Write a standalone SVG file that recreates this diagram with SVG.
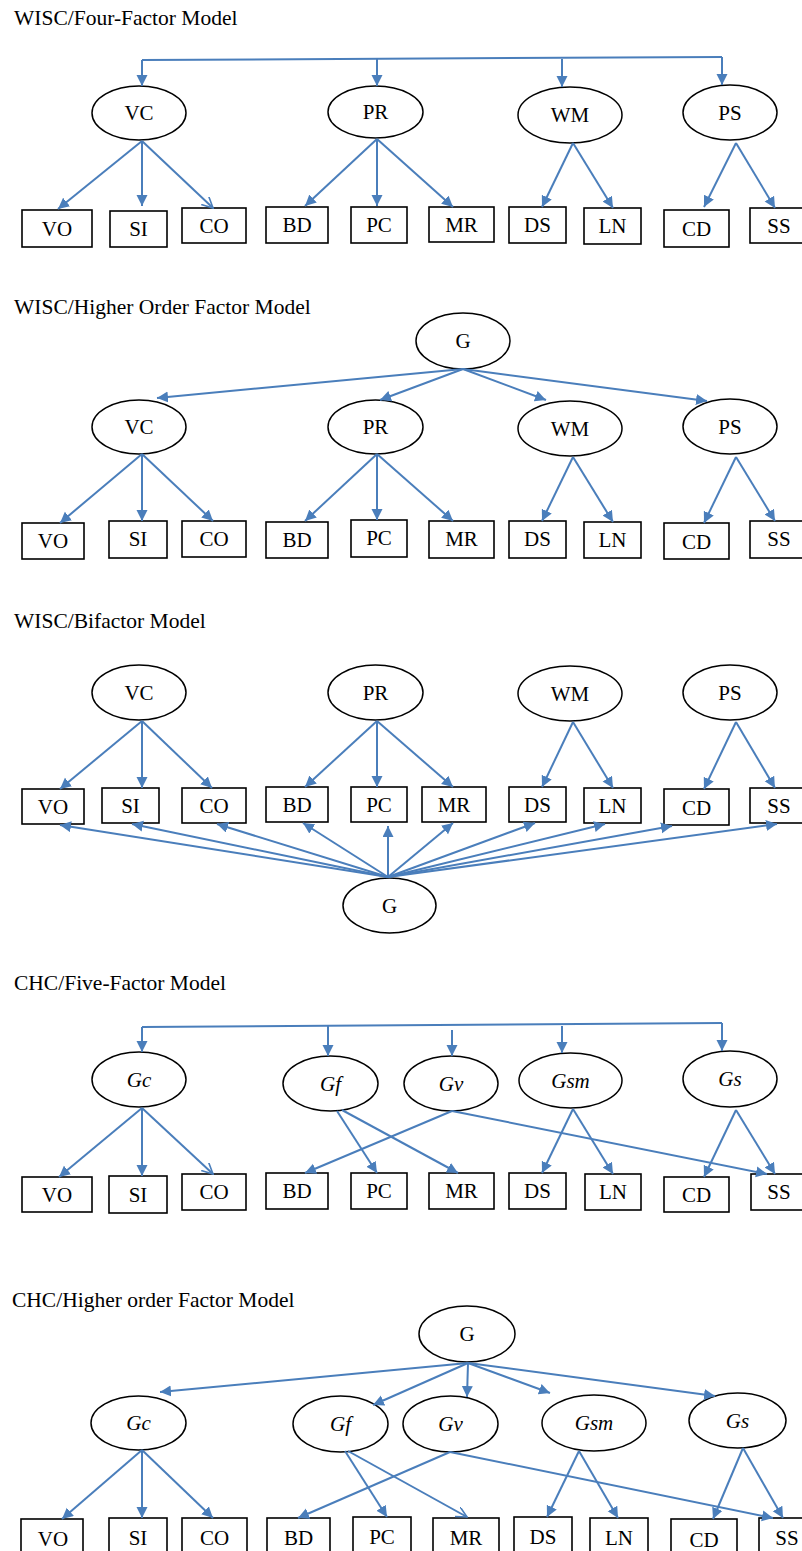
<svg xmlns="http://www.w3.org/2000/svg" width="802" height="1551" viewBox="0 0 802 1551">
<style>
.title{font-family:'Liberation Serif','Times New Roman',Times,'DejaVu Serif',serif;font-size:21.5px;fill:#000}
.lbl{font-family:'Liberation Serif','Times New Roman',Times,'DejaVu Serif',serif;font-size:21px;text-anchor:middle;fill:#000}
.it{font-style:italic}
.box{fill:#fff;stroke:#000;stroke-width:1.6}
.ell{fill:#fff;stroke:#000;stroke-width:1.5}
.c{stroke:#4A7EBB;stroke-width:2;fill:none;marker-end:url(#ah)}
.co{stroke:#4A7EBB;stroke-width:2;fill:none;marker-end:url(#ao)}
.l{stroke:#4A7EBB;stroke-width:2;fill:none}
</style>
<defs>
<marker id="ah" markerUnits="userSpaceOnUse" markerWidth="12" markerHeight="12" refX="11" refY="5.5" orient="auto"><path d="M0,0 L11,5.5 L0,11 z" fill="#4A7EBB"/></marker>
<marker id="ao" markerUnits="userSpaceOnUse" markerWidth="12" markerHeight="12" refX="11" refY="5.5" orient="auto"><path d="M0,0 L11,5.5 L0,11" fill="none" stroke="#4A7EBB" stroke-width="1.6"/></marker>
</defs>
<rect width="802" height="1551" fill="#fff"/>

<!-- Section 1 -->
<text class="title" x="14" y="25" font-family="Liberation Serif, serif">WISC/Four-Factor Model</text>
<g id="s1-VC"><ellipse class="ell" cx="139" cy="113" rx="47" ry="27"/><text class="lbl" x="139" y="120">VC</text></g>
<g id="s1-PR"><ellipse class="ell" cx="375.5" cy="112" rx="47.5" ry="26"/><text class="lbl" x="375.5" y="119">PR</text></g>
<g id="s1-WM"><ellipse class="ell" cx="570" cy="115" rx="52" ry="28"/><text class="lbl" x="570" y="122">WM</text></g>
<g id="s1-PS"><ellipse class="ell" cx="730" cy="112.5" rx="47" ry="27.5"/><text class="lbl" x="730" y="119.5">PS</text></g>
<g id="s1-VO"><rect class="box" x="22" y="210" width="70" height="37"/><text class="lbl" x="57" y="236">VO</text></g>
<g id="s1-SI"><rect class="box" x="110" y="211" width="57" height="36"/><text class="lbl" x="138.5" y="236">SI</text></g>
<g id="s1-CO"><rect class="box" x="182" y="208" width="64" height="35"/><text class="lbl" x="214" y="233">CO</text></g>
<g id="s1-BD"><rect class="box" x="266" y="207" width="62" height="36"/><text class="lbl" x="297" y="232">BD</text></g>
<g id="s1-PC"><rect class="box" x="351" y="207" width="56" height="36"/><text class="lbl" x="379" y="232">PC</text></g>
<g id="s1-MR"><rect class="box" x="429" y="207" width="65" height="35"/><text class="lbl" x="461.5" y="232">MR</text></g>
<g id="s1-DS"><rect class="box" x="509" y="207" width="57" height="36"/><text class="lbl" x="537.5" y="232">DS</text></g>
<g id="s1-LN"><rect class="box" x="584" y="208" width="57" height="36"/><text class="lbl" x="612.5" y="233">LN</text></g>
<g id="s1-CD"><rect class="box" x="664" y="210" width="65" height="37"/><text class="lbl" x="696.5" y="236">CD</text></g>
<g id="s1-SS"><rect class="box" x="750" y="208" width="58" height="35"/><text class="lbl" x="779" y="233">SS</text></g>

<!-- Section 2 -->
<text class="title" x="14" y="314">WISC/Higher Order Factor Model</text>
<g id="s2-G"><ellipse class="ell" cx="463" cy="341" rx="47" ry="28"/><text class="lbl" x="463" y="348">G</text></g>
<g id="s2-VC"><ellipse class="ell" cx="139" cy="427" rx="47" ry="27"/><text class="lbl" x="139" y="434">VC</text></g>
<g id="s2-PR"><ellipse class="ell" cx="375.5" cy="427" rx="47.5" ry="27"/><text class="lbl" x="375.5" y="434">PR</text></g>
<g id="s2-WM"><ellipse class="ell" cx="570" cy="428.5" rx="52" ry="27.5"/><text class="lbl" x="570" y="435.5">WM</text></g>
<g id="s2-PS"><ellipse class="ell" cx="730" cy="426.5" rx="47" ry="27.5"/><text class="lbl" x="730" y="433.5">PS</text></g>
<g id="s2-VO"><rect class="box" x="22" y="523" width="62" height="36"/><text class="lbl" x="53" y="548">VO</text></g>
<g id="s2-SI"><rect class="box" x="109" y="521" width="58" height="37"/><text class="lbl" x="138" y="546">SI</text></g>
<g id="s2-CO"><rect class="box" x="182" y="521" width="64" height="36"/><text class="lbl" x="214" y="546">CO</text></g>
<g id="s2-BD"><rect class="box" x="266" y="522" width="62" height="36"/><text class="lbl" x="297" y="547">BD</text></g>
<g id="s2-PC"><rect class="box" x="351" y="520" width="56" height="37"/><text class="lbl" x="379" y="545">PC</text></g>
<g id="s2-MR"><rect class="box" x="429" y="521" width="65" height="37"/><text class="lbl" x="461.5" y="546">MR</text></g>
<g id="s2-DS"><rect class="box" x="509" y="521" width="57" height="37"/><text class="lbl" x="537.5" y="546">DS</text></g>
<g id="s2-LN"><rect class="box" x="584" y="522" width="57" height="36"/><text class="lbl" x="612.5" y="547">LN</text></g>
<g id="s2-CD"><rect class="box" x="664" y="523" width="65" height="36"/><text class="lbl" x="696.5" y="549">CD</text></g>
<g id="s2-SS"><rect class="box" x="750" y="521" width="58" height="37"/><text class="lbl" x="779" y="546">SS</text></g>

<!-- Section 3 -->
<text class="title" x="14" y="628">WISC/Bifactor Model</text>
<g id="s3-VC"><ellipse class="ell" cx="139" cy="692.5" rx="47" ry="27.5"/><text class="lbl" x="139" y="699.5">VC</text></g>
<g id="s3-PR"><ellipse class="ell" cx="375.5" cy="692.5" rx="47.5" ry="27.5"/><text class="lbl" x="375.5" y="699.5">PR</text></g>
<g id="s3-WM"><ellipse class="ell" cx="570" cy="693.5" rx="52" ry="27.5"/><text class="lbl" x="570" y="700.5">WM</text></g>
<g id="s3-PS"><ellipse class="ell" cx="730" cy="692.5" rx="47" ry="27.5"/><text class="lbl" x="730" y="699.5">PS</text></g>
<g id="s3-VO"><rect class="box" x="22" y="789" width="62" height="35"/><text class="lbl" x="53" y="813.5">VO</text></g>
<g id="s3-SI"><rect class="box" x="102" y="788" width="57" height="35"/><text class="lbl" x="130.5" y="812.5">SI</text></g>
<g id="s3-CO"><rect class="box" x="182" y="788" width="64" height="35"/><text class="lbl" x="214" y="812.5">CO</text></g>
<g id="s3-BD"><rect class="box" x="266" y="787" width="62" height="35"/><text class="lbl" x="297" y="811.5">BD</text></g>
<g id="s3-PC"><rect class="box" x="351" y="787" width="56" height="35"/><text class="lbl" x="379" y="811.5">PC</text></g>
<g id="s3-MR"><rect class="box" x="422" y="787" width="64" height="35"/><text class="lbl" x="454" y="811.5">MR</text></g>
<g id="s3-DS"><rect class="box" x="509" y="787" width="57" height="35"/><text class="lbl" x="537.5" y="811.5">DS</text></g>
<g id="s3-LN"><rect class="box" x="584" y="788" width="57" height="35"/><text class="lbl" x="612.5" y="812.5">LN</text></g>
<g id="s3-CD"><rect class="box" x="664" y="789" width="65" height="36"/><text class="lbl" x="696.5" y="814.5">CD</text></g>
<g id="s3-SS"><rect class="box" x="750" y="788" width="58" height="35"/><text class="lbl" x="779" y="812.5">SS</text></g>
<g id="s3-G"><ellipse class="ell" cx="389.5" cy="905.5" rx="46.5" ry="27.5"/><text class="lbl" x="389.5" y="912.5">G</text></g>

<!-- Section 4 -->
<text class="title" x="14" y="990">CHC/Five-Factor Model</text>
<g id="s4-Gc"><ellipse class="ell" cx="139" cy="1079.5" rx="47" ry="27.5"/><text class="lbl it" x="139" y="1086.5">Gc</text></g>
<g id="s4-Gf"><ellipse class="ell" cx="330.5" cy="1083.5" rx="47.5" ry="27.5"/><text class="lbl it" x="330.5" y="1090.5">Gf</text></g>
<g id="s4-Gv"><ellipse class="ell" cx="451" cy="1083.5" rx="47" ry="27.5"/><text class="lbl it" x="451" y="1090.5">Gv</text></g>
<g id="s4-Gsm"><ellipse class="ell" cx="570.5" cy="1080.5" rx="51.5" ry="27.5"/><text class="lbl it" x="570.5" y="1087.5">Gsm</text></g>
<g id="s4-Gs"><ellipse class="ell" cx="730" cy="1079" rx="47" ry="28"/><text class="lbl it" x="730" y="1086">Gs</text></g>
<g id="s4-VO"><rect class="box" x="22" y="1177" width="70" height="35"/><text class="lbl" x="57" y="1202">VO</text></g>
<g id="s4-SI"><rect class="box" x="109" y="1176" width="58" height="37"/><text class="lbl" x="138" y="1202">SI</text></g>
<g id="s4-CO"><rect class="box" x="182" y="1174" width="64" height="36"/><text class="lbl" x="214" y="1199">CO</text></g>
<g id="s4-BD"><rect class="box" x="266" y="1173" width="62" height="36"/><text class="lbl" x="297" y="1198">BD</text></g>
<g id="s4-PC"><rect class="box" x="351" y="1173" width="56" height="36"/><text class="lbl" x="379" y="1198">PC</text></g>
<g id="s4-MR"><rect class="box" x="429" y="1173" width="65" height="36"/><text class="lbl" x="461.5" y="1198">MR</text></g>
<g id="s4-DS"><rect class="box" x="509" y="1173" width="57" height="36"/><text class="lbl" x="537.5" y="1198">DS</text></g>
<g id="s4-LN"><rect class="box" x="585" y="1174" width="56" height="36"/><text class="lbl" x="613" y="1199">LN</text></g>
<g id="s4-CD"><rect class="box" x="664" y="1177" width="65" height="35"/><text class="lbl" x="696.5" y="1202">CD</text></g>
<g id="s4-SS"><rect class="box" x="751" y="1174" width="58" height="36"/><text class="lbl" x="779" y="1199">SS</text></g>

<!-- Section 5 -->
<text class="title" x="12" y="1307">CHC/Higher order Factor Model</text>
<g id="s5-G"><ellipse class="ell" cx="467" cy="1334" rx="48" ry="28"/><text class="lbl" x="467" y="1341">G</text></g>
<g id="s5-Gc"><ellipse class="ell" cx="138.5" cy="1423" rx="47.5" ry="27"/><text class="lbl it" x="138.5" y="1430">Gc</text></g>
<g id="s5-Gf"><ellipse class="ell" cx="340.5" cy="1424" rx="47.5" ry="28"/><text class="lbl it" x="340.5" y="1431">Gf</text></g>
<g id="s5-Gv"><ellipse class="ell" cx="450.5" cy="1424" rx="47.5" ry="28"/><text class="lbl it" x="450.5" y="1431">Gv</text></g>
<g id="s5-Gsm"><ellipse class="ell" cx="594" cy="1423" rx="52" ry="28"/><text class="lbl it" x="594" y="1430">Gsm</text></g>
<g id="s5-Gs"><ellipse class="ell" cx="737.5" cy="1420.5" rx="48.5" ry="27.5"/><text class="lbl it" x="737.5" y="1427.5">Gs</text></g>
<g id="s5-VO"><rect class="box" x="21" y="1519" width="62" height="40"/><text class="lbl" x="53" y="1546">VO</text></g>
<g id="s5-SI"><rect class="box" x="109" y="1518" width="58" height="40"/><text class="lbl" x="138" y="1545">SI</text></g>
<g id="s5-CO"><rect class="box" x="182" y="1518" width="65" height="40"/><text class="lbl" x="214.5" y="1545">CO</text></g>
<g id="s5-BD"><rect class="box" x="267" y="1518" width="63" height="40"/><text class="lbl" x="298.5" y="1545">BD</text></g>
<g id="s5-PC"><rect class="box" x="353" y="1517" width="58" height="40"/><text class="lbl" x="382" y="1544">PC</text></g>
<g id="s5-MR"><rect class="box" x="433" y="1518" width="66" height="40"/><text class="lbl" x="466" y="1545">MR</text></g>
<g id="s5-DS"><rect class="box" x="514" y="1517" width="58" height="40"/><text class="lbl" x="543" y="1544">DS</text></g>
<g id="s5-LN"><rect class="box" x="590" y="1518" width="58" height="40"/><text class="lbl" x="619" y="1545">LN</text></g>
<g id="s5-CD"><rect class="box" x="671" y="1519" width="66" height="40"/><text class="lbl" x="704" y="1547">CD</text></g>
<g id="s5-SS"><rect class="box" x="759" y="1518" width="60" height="40"/><text class="lbl" x="787" y="1545">SS</text></g>

<g id="connectors">
<!-- S1 -->
<path class="l" d="M142,60 L722,57"/>
<line class="c" x1="142" y1="60" x2="142" y2="86"/>
<line class="c" x1="377" y1="59" x2="377" y2="86"/>
<line class="c" x1="562" y1="59" x2="562" y2="87"/>
<line class="c" x1="722" y1="57" x2="722" y2="85"/>
<line class="c" x1="142" y1="141" x2="58" y2="209"/>
<line class="c" x1="142" y1="141" x2="142" y2="206"/>
<line class="co" x1="142" y1="141" x2="213" y2="208"/>
<line class="c" x1="377" y1="139" x2="305" y2="206"/>
<line class="c" x1="377" y1="139" x2="377" y2="206"/>
<line class="c" x1="377" y1="139" x2="453" y2="207"/>
<line class="c" x1="573" y1="143" x2="542" y2="207"/>
<line class="c" x1="573" y1="143" x2="613" y2="208"/>
<line class="c" x1="736" y1="143" x2="704" y2="207"/>
<line class="c" x1="736" y1="143" x2="775" y2="208"/>
<!-- S2 -->
<line class="c" x1="463" y1="369" x2="157" y2="398"/>
<line class="c" x1="463" y1="369" x2="380" y2="400"/>
<line class="c" x1="463" y1="369" x2="546" y2="400"/>
<line class="c" x1="463" y1="369" x2="707" y2="401"/>
<line class="c" x1="142" y1="454" x2="60" y2="523"/>
<line class="c" x1="142" y1="454" x2="142" y2="521"/>
<line class="c" x1="142" y1="454" x2="213" y2="521"/>
<line class="c" x1="377" y1="454" x2="305" y2="521"/>
<line class="c" x1="377" y1="454" x2="377" y2="520"/>
<line class="c" x1="377" y1="454" x2="453" y2="521"/>
<line class="c" x1="573" y1="457" x2="542" y2="521"/>
<line class="c" x1="573" y1="457" x2="613" y2="522"/>
<line class="c" x1="736" y1="457" x2="704" y2="523"/>
<line class="c" x1="736" y1="457" x2="775" y2="521"/>
<!-- S3 top -->
<line class="c" x1="142" y1="721" x2="60" y2="789"/>
<line class="c" x1="142" y1="721" x2="142" y2="788"/>
<line class="c" x1="142" y1="721" x2="212" y2="788"/>
<line class="c" x1="377" y1="721" x2="305" y2="787"/>
<line class="c" x1="377" y1="721" x2="377" y2="787"/>
<line class="c" x1="377" y1="721" x2="453" y2="787"/>
<line class="c" x1="573" y1="722" x2="542" y2="787"/>
<line class="c" x1="573" y1="722" x2="613" y2="788"/>
<line class="c" x1="736" y1="722" x2="704" y2="789"/>
<line class="c" x1="736" y1="722" x2="775" y2="788"/>
<!-- S3 G -->
<line class="c" x1="388" y1="877" x2="60" y2="825"/>
<line class="c" x1="388" y1="877" x2="132" y2="824"/>
<line class="c" x1="388" y1="877" x2="217" y2="824"/>
<line class="c" x1="388" y1="877" x2="303" y2="823"/>
<line class="c" x1="388" y1="877" x2="388" y2="826"/>
<line class="c" x1="388" y1="877" x2="453" y2="823"/>
<line class="c" x1="388" y1="877" x2="535" y2="823"/>
<line class="c" x1="388" y1="877" x2="605" y2="824"/>
<line class="c" x1="388" y1="877" x2="672" y2="826"/>
<line class="c" x1="388" y1="877" x2="777" y2="824"/>
<!-- S4 -->
<path class="l" d="M142,1027 L722,1023"/>
<line class="c" x1="142" y1="1027" x2="142" y2="1052"/>
<line class="c" x1="328" y1="1026" x2="328" y2="1056"/>
<line class="c" x1="452" y1="1030" x2="452" y2="1056"/>
<line class="c" x1="562" y1="1026" x2="562" y2="1053"/>
<line class="c" x1="722" y1="1023" x2="722" y2="1051"/>
<line class="c" x1="142" y1="1108" x2="59" y2="1177"/>
<line class="c" x1="142" y1="1108" x2="142" y2="1176"/>
<line class="co" x1="142" y1="1108" x2="213" y2="1174"/>
<line class="c" x1="337" y1="1111" x2="377" y2="1173"/>
<line class="c" x1="342" y1="1110" x2="458" y2="1173"/>
<line class="c" x1="452" y1="1111" x2="305" y2="1173"/>
<line class="c" x1="452" y1="1111" x2="767" y2="1174"/>
<line class="c" x1="573" y1="1109" x2="542" y2="1173"/>
<line class="c" x1="573" y1="1109" x2="613" y2="1174"/>
<line class="c" x1="736" y1="1110" x2="704" y2="1177"/>
<line class="c" x1="736" y1="1110" x2="775" y2="1174"/>
<!-- S5 -->
<line class="c" x1="468" y1="1363" x2="160" y2="1392"/>
<line class="c" x1="468" y1="1363" x2="373" y2="1405"/>
<line class="c" x1="468" y1="1363" x2="467" y2="1397"/>
<line class="c" x1="468" y1="1363" x2="550" y2="1393"/>
<line class="c" x1="468" y1="1363" x2="715" y2="1396"/>
<line class="c" x1="142" y1="1450" x2="62" y2="1519"/>
<line class="c" x1="142" y1="1450" x2="142" y2="1518"/>
<line class="c" x1="142" y1="1450" x2="213" y2="1518"/>
<line class="c" x1="345" y1="1451" x2="387" y2="1517"/>
<line class="co" x1="348" y1="1451" x2="467" y2="1517"/>
<line class="c" x1="450" y1="1452" x2="298" y2="1518"/>
<line class="c" x1="450" y1="1452" x2="773" y2="1518"/>
<line class="c" x1="579" y1="1451" x2="547" y2="1517"/>
<line class="c" x1="579" y1="1451" x2="618" y2="1518"/>
<line class="c" x1="743" y1="1448" x2="713" y2="1519"/>
<line class="c" x1="743" y1="1448" x2="783" y2="1518"/>
</g>
</svg>
